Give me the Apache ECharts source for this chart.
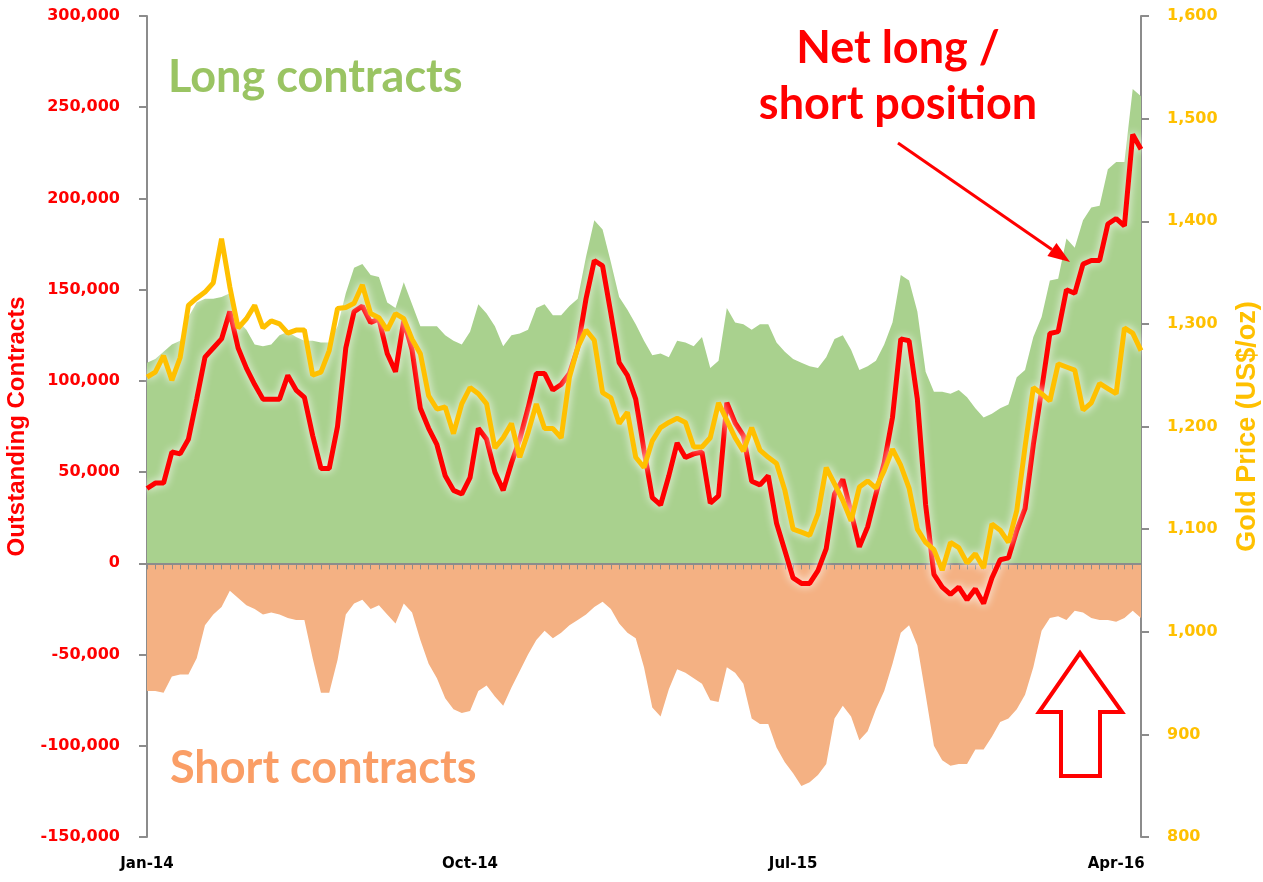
<!DOCTYPE html>
<html>
<head>
<meta charset="utf-8">
<title>Gold futures net long / short position</title>
<script src="https://cdn.jsdelivr.net/npm/echarts@6/dist/echarts.min.js"></script>
<style>
	html, body { margin: 0; padding: 0; background: #fff; }
	#main { width: 1263px; height: 882px; }
</style>
</head>
<body>
<div id="main"></div>
<script>
// weekly data, Jan-14 .. Apr-16, contracts in thousands
var longContracts = [
	110, 112, 116, 120, 122, 135, 143, 145, 145, 146,
	148, 133, 128, 120, 119, 120, 125, 127, 124, 122,
	122, 121, 121, 130, 148, 162, 164, 158, 157, 143,
	140, 154, 142, 130, 130, 130, 125, 122, 120, 127,
	142, 137, 130, 119, 125, 126, 128, 140, 142, 136,
	136, 141, 145, 168, 188, 183, 165, 146, 139, 131,
	122, 114, 115, 113, 122, 121, 119, 124, 107, 111,
	140, 132, 131, 128, 131, 131, 121, 116, 112, 110,
	108, 107, 113, 123, 125, 117, 106, 108, 111, 120,
	132, 158, 155, 138, 105, 94, 94, 93, 95, 91,
	85, 80, 82, 85, 87, 102, 106, 124, 135, 155,
	156, 178, 173, 188, 195, 196, 216, 220, 220, 260,
	256
];
var shortContracts = [
	-70, -70, -71, -62, -61, -61, -52, -34, -28, -24,
	-15, -19, -23, -25, -28, -27, -28, -30, -31, -31,
	-52, -71, -71, -53, -28, -22, -20, -25, -23, -28,
	-33, -22, -27, -42, -55, -63, -74, -80, -82, -81,
	-70, -67, -73, -78, -68, -59, -50, -42, -37, -41,
	-38, -34, -31, -28, -24, -21, -25, -33, -38, -41,
	-57, -79, -84, -69, -58, -60, -63, -66, -75, -76,
	-57, -60, -66, -85, -88, -88, -101, -109, -115, -122,
	-120, -116, -110, -85, -78, -84, -97, -92, -80, -70,
	-55, -38, -34, -45, -72, -100, -108, -111, -110, -110,
	-102, -102, -95, -87, -85, -80, -72, -57, -37, -30,
	-29, -31, -26, -27, -30, -31, -31, -32, -30, -26,
	-30
];
var netPosition = [
	41, 44, 44, 61, 60, 68, 90, 113, 118, 123,
	138, 118, 107, 98, 90, 90, 90, 103, 95, 91,
	70, 52, 52, 75, 118, 138, 141, 132, 134, 115,
	105, 133, 117, 85, 74, 65, 48, 40, 38, 47,
	74, 68, 50, 40, 55, 68, 85, 104, 104, 95,
	98, 104, 118, 145, 166, 163, 137, 110, 103, 90,
	62, 36, 32, 48, 66, 58, 60, 61, 33, 37,
	88, 77, 70, 45, 43, 48, 22, 7, -8, -11,
	-11, -4, 8, 38, 46, 28, 9, 20, 38, 55,
	80, 123, 122, 90, 32, -6, -13, -17, -13, -20,
	-14, -22, -8, 2, 3, 18, 30, 65, 95, 126,
	127, 150, 148, 164, 166, 166, 186, 189, 185, 235,
	227
];
var goldPrice = [
	1248, 1253, 1269, 1245, 1267, 1318, 1325, 1331, 1340, 1383,
	1336, 1296, 1305, 1318, 1296, 1303, 1300, 1291, 1294, 1294,
	1250, 1253, 1274, 1315, 1316, 1320, 1338, 1310, 1306, 1294,
	1310, 1305, 1285, 1271, 1230, 1217, 1219, 1193, 1222, 1238,
	1232, 1222, 1179, 1189, 1203, 1170, 1194, 1222, 1198, 1198,
	1189, 1248, 1277, 1294, 1284, 1233, 1228, 1203, 1214, 1170,
	1160, 1186, 1199, 1204, 1208, 1204, 1180, 1180, 1189, 1223,
	1206, 1189, 1176, 1199, 1177, 1170, 1164, 1138, 1100, 1097,
	1094, 1115, 1160, 1144, 1128, 1108, 1141, 1147, 1140, 1157,
	1178, 1162, 1140, 1100, 1087, 1080, 1060, 1087, 1082, 1067,
	1076, 1062, 1105, 1099, 1087, 1118, 1180, 1238, 1232, 1225,
	1261, 1258, 1255, 1216, 1223, 1242, 1237, 1232, 1296, 1291,
	1274
];
var tickLabels = ['Jan-14', 'Oct-14', 'Jul-15', 'Apr-16'];
var tickEvery = 39; // weeks between labels

var weeks = [];
for (var i = 0; i < longContracts.length; i++) {
	weeks.push('W' + i);
}

var chartDom = document.getElementById('main');
var myChart = echarts.init(chartDom);
var option;

var axisGrey = '#8c8c8c';
var labelFont = 'DejaVu Sans';
var textFont = 'Lato';
var nameFont = 'Liberation Sans Narrow, Liberation Sans, sans-serif';

function withCommas(v) {
	return Number(v).toLocaleString('en-US');
}

// arrow pointing at the net line
var arrow = { x1: 898, y1: 143, x2: 1070, y2: 262 };
var dx = arrow.x2 - arrow.x1, dy = arrow.y2 - arrow.y1;
var len = Math.sqrt(dx * dx + dy * dy);
var ux = dx / len, uy = dy / len;
var headLen = 22, headHalf = 8;
var bx = arrow.x2 - ux * headLen, by = arrow.y2 - uy * headLen;

option = {
	animation: false,
	grid: { left: 147, right: 122, top: 16, bottom: 45, outerBoundsMode: 'none' },
	xAxis: [
		{
			type: 'category',
			data: weeks,
			boundaryGap: false,
			axisLine: { show: false, onZero: false },
			axisTick: { show: false },
			splitLine: { show: false },
			axisLabel: {
				interval: function (index) {
					return index % tickEvery === 0;
				},
				formatter: function (value) {
					var idx = +value.slice(1);
					return tickLabels[idx / tickEvery] || '';
				},
				color: '#000',
				fontWeight: 'bold',
				fontFamily: labelFont,
				fontSize: 15,
				margin: 20,
			},
		},
		{
			// zero line with weekly ticks, drawn over the areas
			type: 'category',
			data: weeks,
			boundaryGap: false,
			position: 'bottom',
			z: 5,
			axisLine: {
				show: true,
				onZero: true,
				onZeroAxisIndex: 0,
				lineStyle: { color: axisGrey, width: 2 },
			},
			axisTick: {
				show: true,
				interval: 0,
				length: 6,
				lineStyle: { color: axisGrey, width: 1 },
			},
			axisLabel: { show: false },
			splitLine: { show: false },
		},
	],
	yAxis: [
		{
			type: 'value',
			position: 'left',
			min: -150,
			max: 300,
			interval: 50,
			name: 'Outstanding Contracts',
			nameLocation: 'middle',
			nameRotate: 90,
			nameGap: 116,
			nameTextStyle: {
				color: '#FF0000',
				fontWeight: 'bold',
				fontFamily: nameFont,
				fontSize: 24,
			},
			axisLine: { show: true, lineStyle: { color: axisGrey, width: 2 } },
			axisTick: { show: true, length: 8, lineStyle: { color: axisGrey, width: 2 } },
			splitLine: { show: false },
			axisLabel: {
				color: '#FF0000',
				fontWeight: 'bold',
				fontFamily: labelFont,
				fontSize: 16,
				margin: 27,
				formatter: function (v) {
					return withCommas(v * 1000);
				},
			},
		},
		{
			type: 'value',
			position: 'right',
			min: 800,
			max: 1600,
			interval: 100,
			name: 'Gold Price (US$/oz)',
			nameLocation: 'middle',
			nameRotate: 90,
			nameGap: 93,
			nameTextStyle: {
				color: '#FFC000',
				fontWeight: 'bold',
				fontFamily: nameFont,
				fontSize: 27,
			},
			axisLine: { show: true, lineStyle: { color: axisGrey, width: 2 } },
			axisTick: { show: true, length: 8, lineStyle: { color: axisGrey, width: 2 } },
			splitLine: { show: false },
			axisLabel: {
				color: '#FFC000',
				fontWeight: 'bold',
				fontFamily: labelFont,
				fontSize: 16,
				margin: 26,
				formatter: withCommas,
			},
		},
	],
	series: [
		{
			name: 'Long contracts',
			type: 'line',
			data: longContracts,
			showSymbol: false,
			lineStyle: { width: 0 },
			areaStyle: { color: '#A9D18E', opacity: 1 },
			z: 1,
		},
		{
			name: 'Short contracts',
			type: 'line',
			data: shortContracts,
			showSymbol: false,
			lineStyle: { width: 0 },
			areaStyle: { color: '#F4B183', opacity: 1 },
			z: 1,
		},
		{
			name: 'Net long / short position',
			type: 'line',
			data: netPosition,
			showSymbol: false,
			lineStyle: {
				color: '#FF0000',
				width: 5,
				shadowColor: 'rgba(255,255,255,0.95)',
				shadowBlur: 9,
			},
			z: 6,
		},
		{
			name: 'Gold price',
			type: 'line',
			yAxisIndex: 1,
			data: goldPrice,
			showSymbol: false,
			lineStyle: {
				color: '#FFC000',
				width: 5,
				shadowColor: 'rgba(255,255,255,0.95)',
				shadowBlur: 9,
			},
			z: 7,
		},
	],
	graphic: [
		{
			type: 'text',
			x: 168,
			y: 77,
			z: 10,
			style: {
				text: 'Long contracts',
				fill: '#9AC463',
				font: 'bold 45px ' + textFont,
				verticalAlign: 'middle',
			},
		},
		{
			type: 'text',
			x: 170,
			y: 768,
			z: 10,
			style: {
				text: 'Short contracts',
				fill: '#FA9E66',
				font: 'bold 45px ' + textFont,
				verticalAlign: 'middle',
			},
		},
		{
			type: 'text',
			x: 898,
			y: 48,
			z: 10,
			style: {
				text: 'Net long /',
				fill: '#FF0000',
				font: 'bold 45px ' + textFont,
				align: 'center',
				verticalAlign: 'middle',
			},
		},
		{
			type: 'text',
			x: 898,
			y: 104,
			z: 10,
			style: {
				text: 'short position',
				fill: '#FF0000',
				font: 'bold 45px ' + textFont,
				align: 'center',
				verticalAlign: 'middle',
			},
		},
		{
			type: 'line',
			z: 10,
			shape: { x1: arrow.x1, y1: arrow.y1, x2: bx, y2: by },
			style: { stroke: '#FF0000', lineWidth: 3 },
		},
		{
			type: 'polygon',
			z: 10,
			shape: {
				points: [
					[arrow.x2, arrow.y2],
					[bx - uy * headHalf, by + ux * headHalf],
					[bx + uy * headHalf, by - ux * headHalf],
				],
			},
			style: { fill: '#FF0000' },
		},
		{
			// hollow up arrow
			type: 'polygon',
			z: 10,
			shape: {
				points: [
					[1080, 653], [1039, 712], [1061, 712], [1061, 776],
					[1100, 776], [1100, 712], [1122, 712],
				],
			},
			style: { fill: 'none', stroke: '#FF0000', lineWidth: 4 },
		},
	],
};

myChart.setOption(option);
window.addEventListener('resize', function () {
	myChart.resize();
});
</script>
</body>
</html>
